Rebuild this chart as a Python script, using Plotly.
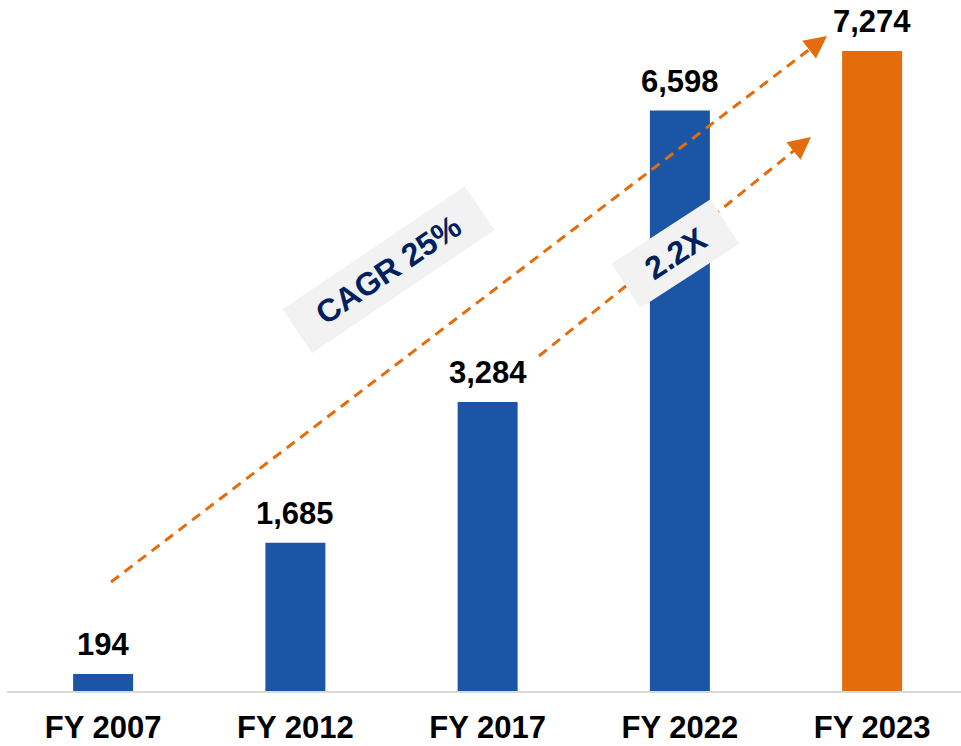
import plotly.graph_objects as go

categories = ["FY 2007", "FY 2012", "FY 2017", "FY 2022", "FY 2023"]
values = [194, 1685, 3284, 6598, 7274]
value_labels = ["194", "1,685", "3,284", "6,598", "7,274"]
bar_colors = ["#1B56A6", "#1B56A6", "#1B56A6", "#1B56A6", "#E46C0A"]

W, H = 961, 746
ML, MR, MT, MB = 7, 0, 0, 55
plot_w = W - ML - MR
plot_h = H - MT - MB
step = 192.25
x_range = [-0.5, -0.5 + plot_w / step]
y_max = 7854
y_range = [0, y_max]

FONT = "Arial, Liberation Sans, sans-serif"
ORANGE = "#E46C0A"
NAVY = "#002060"


def px2x(px):
    return x_range[0] + (px - ML) / plot_w * (x_range[1] - x_range[0])


def py2y(py):
    return (MT + plot_h - py) / plot_h * y_max


fig = go.Figure()
fig.add_trace(go.Bar(
    x=list(range(len(categories))), y=values,
    marker=dict(color=bar_colors, line=dict(width=0)),
    width=0.312, hoverinfo="skip",
))

annotations = []
for i, (v, lab) in enumerate(zip(values, value_labels)):
    annotations.append(dict(
        x=i, y=v, text=f"<b>{lab}</b>", showarrow=False,
        yanchor="bottom", yshift=10, xref="x", yref="y",
        font=dict(family=FONT, size=31, color="#000000"),
    ))

shapes = []
arrows = [((111, 582), (827, 36)), ((539, 356), (811, 137))]
for (x0, y0), (x1, y1) in arrows:
    dx, dy = x1 - x0, y1 - y0
    L = (dx * dx + dy * dy) ** 0.5
    ux, uy = dx / L, dy / L
    ex, ey = x1 - ux * 12, y1 - uy * 12
    shapes.append(dict(
        type="line", xref="x", yref="y",
        x0=px2x(x0), y0=py2y(y0), x1=px2x(ex), y1=py2y(ey),
        line=dict(color=ORANGE, width=3, dash="10px,7px"),
    ))
    annotations.append(dict(
        x=px2x(x1), y=py2y(y1), xref="x", yref="y", text="",
        showarrow=True, arrowhead=2, arrowsize=1.5, arrowwidth=3,
        arrowcolor=ORANGE, ax=-ux * 18, ay=-uy * 18,
        axref="pixel", ayref="pixel",
    ))

nb = "\u00a0\u00a0"
annotations.append(dict(
    x=px2x(388), y=py2y(270), xref="x", yref="y",
    text=f"{nb}<b>CAGR 25%</b>{nb}", showarrow=False, textangle=-34,
    bgcolor="#F2F2F2", borderpad=8,
    font=dict(family=FONT, size=32, color=NAVY),
))
annotations.append(dict(
    x=px2x(675), y=py2y(254), xref="x", yref="y",
    text=f"{nb}<b>2.2X</b>{nb}", showarrow=False, textangle=-33,
    bgcolor="#F2F2F2", borderpad=8,
    font=dict(family=FONT, size=32, color=NAVY),
))

fig.update_layout(
    width=W, height=H,
    margin=dict(l=ML, r=MR, t=MT, b=MB),
    plot_bgcolor="white", paper_bgcolor="white",
    showlegend=False,
    annotations=annotations, shapes=shapes,
    xaxis=dict(
        range=x_range, tickmode="array",
        tickvals=list(range(len(categories))),
        ticktext=[f"<b>{c}</b>" for c in categories],
        tickfont=dict(family=FONT, size=31, color="#000000"),
        showgrid=False, zeroline=False, showline=True,
        linecolor="#D9D9D9", linewidth=2, ticks="",
        ticklabelstandoff=8,
    ),
    yaxis=dict(range=y_range, visible=False, showgrid=False, zeroline=False),
)

fig.write_html(
    "out.html",
    config={"displayModeBar": False},
    post_script="document.body.style.margin='0';document.body.style.overflow='hidden';",
)
